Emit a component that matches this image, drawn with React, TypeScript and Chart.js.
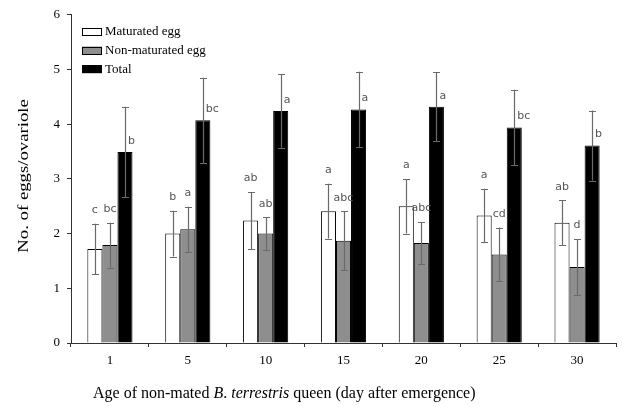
import React, { useEffect, useRef } from 'react';
import { Chart, registerables } from 'chart.js';

Chart.register(...registerables);

const categories = ['1', '5', '10', '15', '20', '25', '30'];
const seriesLabels = ['Maturated egg', 'Non-maturated egg', 'Total'];
const matured = [1.72, 2.0, 2.24, 2.41, 2.5, 2.33, 2.2];
const maturedErr = [0.46, 0.42, 0.52, 0.5, 0.5, 0.49, 0.41];
const nonMatured = [1.79, 2.08, 2.0, 1.87, 1.83, 1.62, 1.39];
const nonMaturedErr = [0.41, 0.41, 0.3, 0.54, 0.38, 0.49, 0.51];
const total = [3.49, 4.07, 4.24, 4.27, 4.32, 3.94, 3.61];
const totalErr = [0.83, 0.78, 0.67, 0.69, 0.63, 0.69, 0.64];
const maturedLetters = ['c', 'b', 'ab', 'a', 'a', 'a', 'ab'];
const nonMaturedLetters = ['bc', 'a', 'ab', 'abc', 'abc', 'cd', 'd'];
const totalLetters = ['b', 'bc', 'a', 'a', 'a', 'bc', 'b'];
const yTitle = 'No. of eggs/ovariole';
const xTitleParts: [string, boolean][] = [
  ['Age of non-mated ', false],
  ['B', true],
  ['. ', false],
  ['terrestris', true],
  [' queen (day after emergence)', false],
];

const SERIF = '"Liberation Serif", "Times New Roman", serif';
const SANS = '"DejaVu Sans", Verdana, sans-serif';

const errorSets = [maturedErr, nonMaturedErr, totalErr];
const letterSets = [maturedLetters, nonMaturedLetters, totalLetters];

export default function App() {
  const ref = useRef<HTMLCanvasElement>(null);

  useEffect(() => {
    document.body.style.margin = '0';
    if (!ref.current) return;

    const errorPlugin = {
      id: 'errorBars',
      afterDatasetsDraw(chart: any) {
        const ctx = chart.ctx;
        const ys = chart.scales.y;
        chart.data.datasets.forEach((ds: any, i: number) => {
          const meta = chart.getDatasetMeta(i);
          meta.data.forEach((bar: any, j: number) => {
            const v = ds.data[j];
            const e = errorSets[i][j];
            const yt = ys.getPixelForValue(v + e);
            const yb = ys.getPixelForValue(v - e);
            const x = Math.round(bar.x) + 0.5;
            ctx.save();
            ctx.strokeStyle = '#6a6a6a';
            ctx.lineWidth = 1.2;
            ctx.beginPath();
            ctx.moveTo(x, yt);
            ctx.lineTo(x, yb);
            ctx.moveTo(x - 3.5, Math.round(yt) + 0.5);
            ctx.lineTo(x + 3.5, Math.round(yt) + 0.5);
            ctx.moveTo(x - 3.5, Math.round(yb) + 0.5);
            ctx.lineTo(x + 3.5, Math.round(yb) + 0.5);
            ctx.stroke();
            ctx.fillStyle = '#555555';
            ctx.font = `11px ${SANS}`;
            ctx.textBaseline = 'middle';
            const letter = letterSets[i][j];
            if (i === 2) {
              ctx.textAlign = 'left';
              ctx.fillText(letter, bar.x + 3, bar.y - 11);
            } else {
              ctx.textAlign = 'center';
              ctx.fillText(letter, bar.x, yt - 13.5);
            }
            ctx.restore();
          });
        });
      },
    };

    const legendPlugin = {
      id: 'customLegend',
      afterDraw(chart: any) {
        const ctx = chart.ctx;
        const left = chart.chartArea.left + 11;
        const top = chart.chartArea.top + 17;
        ctx.save();
        chart.data.datasets.forEach((ds: any, i: number) => {
          const cy = top + i * 18.7;
          ctx.fillStyle = ds.backgroundColor;
          ctx.fillRect(left, cy - 4, 20, 8);
          ctx.strokeStyle = '#000';
          ctx.lineWidth = 1;
          ctx.strokeRect(left + 0.5, Math.round(cy - 4) + 0.5, 19, 7);
          ctx.fillStyle = '#000';
          ctx.font = `13px ${SERIF}`;
          ctx.textAlign = 'left';
          ctx.textBaseline = 'middle';
          ctx.fillText(ds.label, left + 23, cy);
        });
        ctx.restore();
      },
    };

    const titlePlugin = {
      id: 'axisTitles',
      afterDraw(chart: any) {
        const ctx = chart.ctx;
        const area = chart.chartArea;
        ctx.save();
        ctx.fillStyle = '#000';
        ctx.textAlign = 'left';
        ctx.textBaseline = 'alphabetic';
        let x = area.left + 22;
        const y = area.bottom + 55;
        xTitleParts.forEach(([t, it]) => {
          ctx.font = `${it ? 'italic ' : ''}16px ${SERIF}`;
          ctx.fillText(t, x, y);
          x += ctx.measureText(t).width;
        });
        ctx.translate(24, (area.top + area.bottom) / 2 - 3);
        ctx.rotate(-Math.PI / 2);
        ctx.scale(1.25, 1);
        ctx.font = `15px ${SERIF}`;
        ctx.textAlign = 'center';
        ctx.textBaseline = 'middle';
        ctx.fillText(yTitle, 0, 0);
        ctx.restore();
      },
    };

    const chart = new Chart(ref.current, {
      type: 'bar',
      data: {
        labels: categories,
        datasets: [
          {
            label: seriesLabels[0],
            data: matured,
            backgroundColor: '#ffffff',
            borderColor: '#000000',
            borderWidth: 1,
            barPercentage: 1,
            categoryPercentage: 0.58,
          },
          {
            label: seriesLabels[1],
            data: nonMatured,
            backgroundColor: '#8e8e8e',
            borderColor: '#000000',
            borderWidth: 1,
            barPercentage: 1,
            categoryPercentage: 0.58,
          },
          {
            label: seriesLabels[2],
            data: total,
            backgroundColor: '#000000',
            borderColor: '#000000',
            borderWidth: 1,
            barPercentage: 1,
            categoryPercentage: 0.58,
          },
        ],
      },
      options: {
        animation: false,
        responsive: true,
        maintainAspectRatio: false,
        layout: { padding: { top: 4, right: 6, left: 0, bottom: 0 } },
        plugins: {
          legend: { display: false },
          tooltip: { enabled: false },
        },
        scales: {
          x: {
            offset: true,
            grid: {
              offset: true,
              drawOnChartArea: false,
              drawTicks: true,
              tickLength: 4,
              color: '#333',
            },
            border: { color: '#333' },
            ticks: { color: '#000', font: { family: SERIF, size: 13 }, padding: 6 },
            afterFit: (s: any) => {
              s.height = 64;
            },
          },
          y: {
            min: 0,
            max: 6,
            ticks: { stepSize: 1, color: '#000', font: { family: SERIF, size: 13 }, padding: 7 },
            grid: { drawOnChartArea: false, drawTicks: true, tickLength: 4, color: '#333' },
            border: { color: '#333' },
            afterFit: (s: any) => {
              s.width = 71;
            },
          },
        },
      },
      plugins: [errorPlugin, legendPlugin, titlePlugin],
    } as any);

    return () => chart.destroy();
  }, []);

  return (
    <div style={{ position: 'relative', width: 622, height: 407 }}>
      <canvas ref={ref} />
    </div>
  );
}
